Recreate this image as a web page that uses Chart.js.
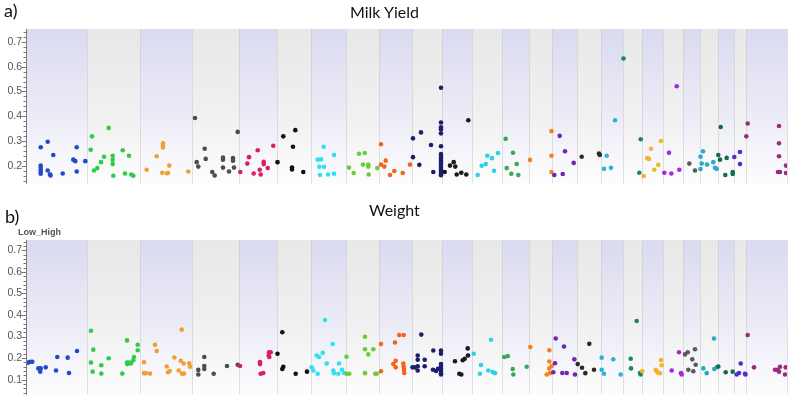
<!DOCTYPE html>
<html><head><meta charset="utf-8">
<script src="https://cdn.jsdelivr.net/npm/chart.js@4.4.1/dist/chart.umd.min.js"></script>
<style>
html,body{margin:0;padding:0;background:#fff;width:796px;height:400px;overflow:hidden;position:relative}
canvas{position:absolute;left:0}
.lbl{position:absolute;font-family:Lato,"Open Sans",sans-serif;color:#111;line-height:1;white-space:nowrap;z-index:2}
</style></head><body>
<canvas id="c1" width="796" height="195" style="top:0;width:796px;height:195px"></canvas>
<canvas id="c2" width="796" height="211" style="top:195px;width:796px;height:211px"></canvas>
<div class="lbl" style="left:4px;top:1px;font-size:18px">a)</div>
<div class="lbl" style="left:350px;top:4px;font-size:16px">Milk Yield</div>
<div class="lbl" style="left:5px;top:207px;font-size:18px">b)</div>
<div class="lbl" style="left:369px;top:202px;font-size:16px">Weight</div>
<div class="lbl" style="left:18px;top:228px;font-size:9px;font-family:'Liberation Sans',Arial,sans-serif;font-weight:bold;color:#555">Low_High</div>
<script>
// Chromosome bands (cumulative genome position, arbitrary units)
const chromosomes = ['1','2','3','4','5','6','7','8','9','10','11','12','13','14','15','16','17','18','19','20','21','22','23','24','25'];
const chrLengths = [60,53,52,47,38,34,35,33,33,30,30,30,27,23,25,24,22,19,21,20,17,18,16,12,41];
const chrColors = ['#234bc8','#2ecc4a','#f0a030','#4d4d4d','#dc1e64','#111111','#2ee0f0','#6ccc3c','#f26418','#1e1e6e',
  '#1a1a1a','#2ed2e8','#3aa85a','#f4821e','#6c28b4','#2a2a2a','#2ab4d2','#168a5c','#f2b428','#a428e0',
  '#5a5a5a','#28aac8','#116e46','#5a28d2','#9a2c7c'];
const bandColors = [['#dadaf0','#ededf7','#fdfdfe'],['#e8e8e8','#f1f1f1','#fdfdfd']];

const milkTicks = [0.2,0.3,0.4,0.5,0.6,0.7];
const weightTicks = [0.1,0.2,0.3,0.4,0.5,0.6,0.7];

// [position, value]
const milkYield = [
 [13.7,0.275],[20.7,0.297],[26.3,0.244],[13.7,0.201],[13.7,0.192],[13.7,0.183],[13.7,0.176],[13.7,0.168],[20.7,0.181],[23,0.166],[23.5,0.161],[35.7,0.169],[49.7,0.275],[46.3,0.225],[48.3,0.219],[49.7,0.177],[58.3,0.219],
 [65,0.319],[63.7,0.265],[67,0.181],[70.3,0.191],[74,0.215],[77,0.237],[81.7,0.353],[85.7,0.241],[85.7,0.225],[85.7,0.207],[86.3,0.16],[95.7,0.263],[98,0.169],[102,0.241],[104.3,0.165],[106.3,0.16],
 [119.7,0.184],[129.7,0.239],[136,0.291],[136,0.282],[136,0.274],[135.3,0.172],[140,0.17],[141,0.171],[142.3,0.201],[161.3,0.177],
 [168,0.393],[169.7,0.215],[171.3,0.197],[177.7,0.269],[178.7,0.228],[185.3,0.175],[187.7,0.161],[196,0.233],[196,0.225],[196,0.193],[202,0.177],[206,0.231],[206,0.221],[207,0.193],[210.7,0.337],
 [213.3,0.175],[220.3,0.209],[222,0.235],[226.7,0.169],[230.7,0.263],[232.7,0.184],[233.7,0.165],[236.7,0.216],[236.7,0.207],[240.7,0.191],[246.3,0.281],
 [250.5,0.215],[256.3,0.319],[266,0.277],[268.3,0.344],[265,0.193],[265,0.185],[276.3,0.175],
 [296.7,0.277],[290.7,0.225],[294,0.226],[292.3,0.196],[297,0.196],[293,0.163],[301,0.165],[307,0.244],[307,0.168],
 [322,0.193],[326.7,0.171],[332,0.249],[337.7,0.252],[336,0.205],[341.3,0.205],[341.3,0.197],[341.7,0.165],[350.3,0.191],
 [354,0.287],[358.7,0.221],[354,0.205],[357.3,0.197],[363,0.163],[367.3,0.179],[375.7,0.171],[383,0.205],
 [386,0.311],[394,0.335],[386,0.235],[392.3,0.204],[404,0.284],[406.3,0.175],
 [414,0.515],[414,0.375],[414,0.355],[414,0.348],[414,0.331],[414,0.279],[414,0.248],[414,0.24],[414,0.232],[414,0.224],[414,0.216],[414,0.208],[414,0.2],[414,0.192],[414,0.184],[414,0.176],[414,0.168],[414,0.162],
 [417.7,0.175],[423,0.201],[426.7,0.215],[428.3,0.197],[429.7,0.165],[434.3,0.172],[439.3,0.165],[441.3,0.384],
 [450.7,0.163],[454.7,0.2],[458.7,0.207],[460.3,0.241],[465,0.231],[467,0.18],[471,0.252],
 [478.7,0.309],[479.7,0.191],[484.3,0.168],[486,0.253],[489.7,0.207],[491.3,0.163],
 [503,0.224],[524.5,0.34],[524.5,0.241],[524.5,0.175],
 [532.7,0.321],[538,0.259],[546.7,0.212],[527.3,0.163],[535.7,0.167],
 [554.7,0.237],[572,0.25],[572.8,0.244],
 [579.7,0.241],[577,0.188],[584,0.192],[588,0.384],
 [596.5,0.633],[613.7,0.307],[612.3,0.172],
 [616.7,0.159],[620.3,0.231],[622,0.228],[624,0.269],[627.3,0.184],[631.3,0.204],[634,0.3],
 [637.3,0.172],[642,0.253],[644.3,0.169],[649.7,0.521],[652.3,0.184],
 [662.3,0.209],[668,0.181],
 [673.5,0.237],[676,0.259],[674.7,0.209],[673.5,0.187],[680,0.205],[686.3,0.215],[688,0.192],[689.7,0.188],
 [691.3,0.244],[693.7,0.357],[693,0.225],[699.7,0.232],[698.3,0.163],[705.7,0.175],[705.7,0.167],
 [707.3,0.236],[713,0.256],[713,0.207],
 [720.7,0.371],[719.3,0.319],[752,0.361],[752,0.291],[752,0.239],[751,0.175],[753,0.175],[759,0.201],[759,0.171]
];

const weight = [
 [1.3,0.179],[3.3,0.183],[5.3,0.183],[11.3,0.152],[13.7,0.152],[13.3,0.137],[18.7,0.157],[29,0.142],[30.3,0.205],[40.7,0.202],[42,0.131],[50,0.233],
 [64,0.327],[66.3,0.239],[64,0.179],[65.7,0.137],[74.3,0.167],[74.3,0.128],[81.7,0.199],[95.3,0.128],[100,0.282],[100,0.179],[100.3,0.172],[102,0.179],[104,0.175],[106.3,0.19],[107,0.205],[110.7,0.262],[110.7,0.236],
 [117,0.181],[117,0.13],[118.7,0.13],[123,0.128],[128,0.262],[129.7,0.233],[139.7,0.161],[141,0.134],[142.7,0.14],[147.3,0.203],[151.7,0.142],[154.7,0.332],[153.7,0.187],[156.7,0.175],[155,0.128],[157,0.128],[162.3,0.176],[163,0.16],
 [171.3,0.145],[171.3,0.124],[177.3,0.205],[177.3,0.163],[177.3,0.149],[186.7,0.127],[200,0.163],[210.7,0.169],
 [213,0.163],[233,0.182],[233,0.172],[233.7,0.127],[236.3,0.131],[242,0.227],[243.7,0.227],[242.3,0.205],[241.7,0.212],
 [250.5,0.22],[255.3,0.32],[256.3,0.16],[255.3,0.149],[268.7,0.127],[280,0.137],
 [284.7,0.157],[286.3,0.142],[290.7,0.127],[289.7,0.212],[292,0.205],[295.7,0.224],[298,0.377],[299.7,0.175],[305.7,0.265],[306.3,0.142],[307,0.13],[312,0.175],[311.3,0.127],[315,0.146],[317,0.131],
 [319.5,0.206],[319.5,0.127],[322.3,0.127],[338,0.299],[338,0.241],[346.3,0.241],[341.3,0.217],[338,0.13],[348.3,0.127],[349.7,0.127],
 [354,0.265],[354,0.139],[368,0.272],[372.3,0.307],[376.7,0.307],[366.3,0.172],[368.7,0.187],[368.7,0.157],[376.3,0.175],[376.7,0.16],[377,0.146],[377.3,0.131],
 [394.3,0.309],[390.7,0.212],[390.7,0.192],[397.7,0.192],[390.7,0.162],[397.7,0.162],[385.5,0.157],[388,0.157],[390.7,0.142],[406.3,0.235],[414,0.235],[414,0.22],[406,0.146],[409,0.14],[411,0.15],[414,0.172],[414,0.16],[414,0.15],[414,0.14],[414,0.13],[414,0.124],
 [428,0.185],[435.7,0.19],[437.7,0.197],[440.7,0.245],[441,0.212],[432.3,0.127],[434.3,0.124],
 [446.7,0.22],[454,0.168],[453,0.127],[464,0.285],[461.3,0.142],[465.7,0.135],[468,0.13],
 [477.3,0.205],[480.7,0.209],[485.7,0.149],[486.3,0.124],[499.7,0.16],
 [503.3,0.251],[522.3,0.236],[522.3,0.184],[524.7,0.163],[522.3,0.152],[519.7,0.124],[523,0.13],
 [528.7,0.291],[537,0.254],[528,0.176],[526.3,0.134],[535.3,0.131],[539.7,0.131],[547.3,0.194],[548,0.124],
 [550.7,0.172],[555,0.155],[562.3,0.266],[558.3,0.13],[567,0.146],
 [574.7,0.202],[574.7,0.146],[577,0.127],[586.3,0.194],[593.7,0.124],
 [609.7,0.372],[603.7,0.197],[604,0.152],[613,0.131],[613.7,0.124],
 [615.3,0.139],[628.7,0.146],[629.7,0.139],[631.3,0.131],[633,0.13],[634,0.191],[634.7,0.167],
 [644.7,0.142],[652,0.227],[654,0.13],[654.7,0.124],
 [658,0.217],[660.7,0.227],[668,0.241],[665.3,0.194],[668.7,0.169],[661.3,0.146],[666.3,0.139],
 [676.3,0.152],[679.7,0.13],[687,0.291],[687.3,0.149],[689.7,0.157],
 [691.3,0.161],[698.7,0.134],[705.7,0.137],
 [709.7,0.124],[712,0.131],[713.7,0.175],[718,0.127],[718.5,0.124],
 [720.7,0.307],[727,0.157],[748,0.146],[750.7,0.146],[752,0.137],[753,0.16],[758.7,0.157],[758,0.124]
];

const chrStarts = [];
chrLengths.reduce((s, l) => { chrStarts.push(s); return s + l; }, 0);
const genomeLength = chrLengths.reduce((a, b) => a + b, 0);

function colorFor(pos) {
  for (let i = 0; i < chrLengths.length; i++) {
    if (pos >= chrStarts[i] && pos < chrStarts[i] + chrLengths[i]) return chrColors[i];
  }
  return chrColors[chrColors.length - 1];
}

const bandsPlugin = {
  id: 'bands',
  beforeDatasetsDraw(chart) {
    const { ctx, chartArea: a, scales: { x } } = chart;
    ctx.save();
    chrLengths.forEach((len, i) => {
      const x0 = x.getPixelForValue(chrStarts[i]);
      const x1 = x.getPixelForValue(chrStarts[i] + len);
      const c = bandColors[i % 2];
      const g = ctx.createLinearGradient(0, a.top, 0, a.bottom);
      g.addColorStop(0, c[0]); g.addColorStop(0.6, c[1]); g.addColorStop(1, c[2]);
      ctx.fillStyle = g;
      ctx.fillRect(x0, a.top, x1 - x0, a.bottom - a.top);
    });
    ctx.strokeStyle = 'rgba(200,200,206,0.55)';
    ctx.lineWidth = 1;
    chrLengths.forEach((len, i) => {
      const px = Math.round(x.getPixelForValue(chrStarts[i] + len)) + 0.5;
      ctx.beginPath(); ctx.moveTo(px, a.top); ctx.lineTo(px, a.bottom); ctx.stroke();
    });
    ctx.restore();
  },
  afterDraw(chart) {
    const { ctx, chartArea: a, scales: { y } } = chart;
    ctx.save();
    ctx.strokeStyle = '#7a7a7a'; ctx.lineWidth = 1;
    const ax = a.left - 0.5;
    ctx.beginPath(); ctx.moveTo(ax, a.top); ctx.lineTo(ax, a.bottom); ctx.stroke();
    for (let k = Math.ceil(y.min / 0.02 - 1e-9); k * 0.02 <= y.max + 1e-9; k++) {
      const py = Math.round(y.getPixelForValue(k * 0.02)) + 0.5;
      const len = (k % 5 === 0) ? 5 : 3;
      ctx.beginPath(); ctx.moveTo(ax - len, py); ctx.lineTo(ax, py); ctx.stroke();
    }
    ctx.restore();
  }
};

function makeChart(id, points, yMin, yMax, ticks, pad) {
  const colors = points.map(p => colorFor(p[0]));
  return new Chart(document.getElementById(id), {
    type: 'scatter',
    data: { datasets: [{
      data: points.map(p => ({ x: p[0], y: p[1] })),
      backgroundColor: colors, borderColor: colors,
      pointRadius: 2.3, pointHoverRadius: 2.3, pointBorderWidth: 0
    }] },
    options: {
      responsive: false, animation: false, devicePixelRatio: 1, events: [],
      layout: { padding: pad },
      plugins: { legend: { display: false }, tooltip: { enabled: false } },
      scales: {
        x: { type: 'linear', display: false, min: 0, max: genomeLength },
        y: {
          type: 'linear', min: yMin, max: yMax,
          grid: { display: false, drawTicks: false },
          border: { display: false },
          afterBuildTicks: s => { s.ticks = ticks.map(v => ({ value: v })); },
          afterFit: s => { s.width = 27; },
          ticks: { padding: 5, color: '#555', autoSkip: false,
            font: { family: "'Liberation Sans', Arial, sans-serif", size: 10.5 },
            callback: v => Number(v).toFixed(1) }
        }
      }
    },
    plugins: [bandsPlugin]
  });
}

makeChart('c1', milkYield, 0.128, 0.752, milkTicks, { top: 29, bottom: 10, left: 0, right: 9 });
makeChart('c2', weight, 0.03, 0.748, weightTicks, { top: 45, bottom: 6, left: 0, right: 9 });
</script>
</body></html>
